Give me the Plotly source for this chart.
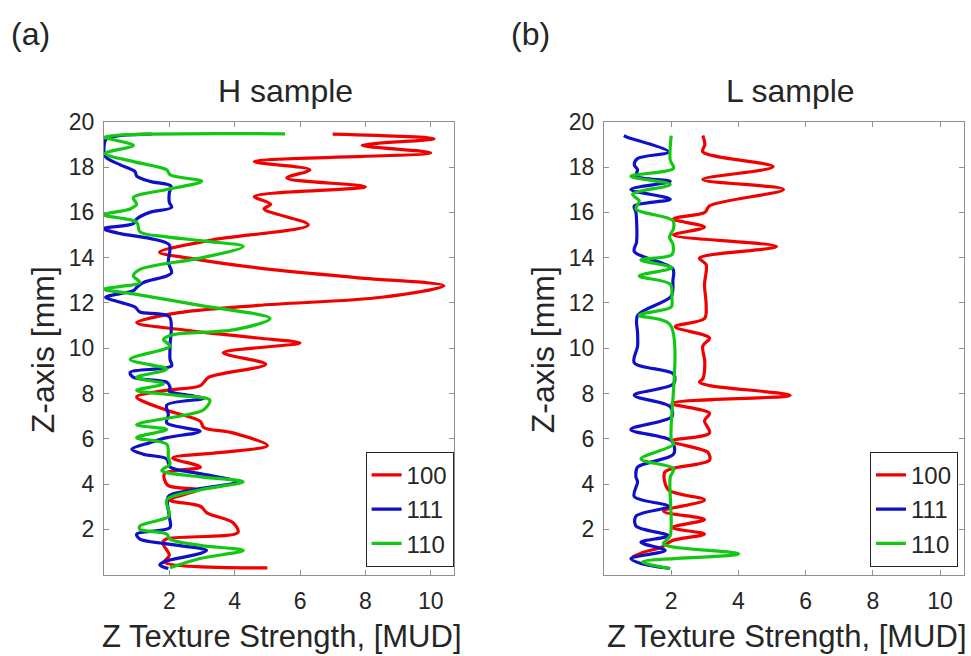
import plotly.graph_objects as go

W, H = 971, 656

# ---- H sample: texture strength vs Z position ----
h100_z = [19.46, 19.25, 18.96, 18.63, 18.24, 17.88, 17.52, 17.13, 16.70, 16.36, 16.15, 15.45,
          14.78, 14.24, 13.98, 13.55, 13.12, 12.76, 12.25, 11.89, 11.53, 11.13, 10.78, 10.45,
          10.23, 9.80, 9.29, 8.71, 8.35, 8.14, 7.85, 7.27, 6.77, 6.50, 6.26, 5.70, 5.40, 5.15,
          4.75, 4.46, 3.95, 3.74, 3.30, 3.02, 2.73, 2.29, 1.86, 1.57, 1.40, 0.85, 0.56, 0.30]
h100_v = [7.0, 10.1, 7.9, 10.0, 4.6, 6.3, 5.6, 8.0, 4.6, 5.1, 4.9, 6.25,
          3.3, 1.7, 2.6, 4.7, 7.7, 10.4, 8.5, 4.7, 2.1, 1.0, 2.6, 4.7,
          6.0, 3.65, 4.95, 3.2, 2.95, 1.9, 1.0, 1.9, 2.95, 3.05, 3.95, 5.0, 3.6, 2.1,
          2.95, 1.85, 1.95, 2.85, 2.0, 2.95, 3.15, 3.95, 4.1, 1.9, 1.8, 2.0, 1.85, 5.0]

h111_z = [19.46, 19.25, 18.90, 18.45, 18.10, 17.80, 17.60, 17.37, 17.16, 16.87, 16.44, 16.22,
          16.00, 15.71, 15.50, 15.28, 15.06, 14.85, 14.56, 13.80, 13.33, 13.19, 12.90, 12.68,
          12.54, 12.25, 12.03, 11.82, 11.60, 11.39, 10.09, 9.51, 9.22, 8.93, 8.71, 8.50, 8.28,
          8.10, 7.92, 7.78, 7.49, 7.06, 6.70, 6.33, 6.05, 5.83, 5.54, 5.32, 5.11, 4.75, 4.46,
          4.10, 3.74, 3.45, 2.55, 2.08, 1.79, 1.57, 1.36, 1.07, 0.93, 0.56, 0.42, 0.27]
h111_v = [1.46, 0.08, 0.0, 0.05, 0.5, 0.95, 1.0, 1.4, 2.05, 2.0, 2.0, 2.07,
          1.4, 1.0, 0.9, 0.0, 0.5, 1.4, 2.0, 1.97, 2.07, 1.92, 1.2, 1.0,
          0.9, 0.05, 0.5, 0.95, 1.1, 2.0, 2.02, 2.02, 2.07, 0.8, 0.9, 1.92, 2.02,
          2.0, 2.63, 3.04, 1.92, 1.97, 1.92, 2.94, 1.92, 1.41, 0.85, 1.2, 1.92, 2.02, 2.94,
          4.06, 2.73, 1.97, 2.0, 2.02, 1.0, 1.1, 1.92, 3.14, 2.94, 1.82, 1.71, 1.97]

h110_z = [19.47, 19.32, 18.96, 18.60, 18.24, 17.88, 17.66, 17.37, 17.01, 16.65, 16.36, 16.15,
          15.89, 15.57, 15.14, 14.92, 14.71, 14.49, 13.98, 13.48, 13.19, 12.90, 12.61, 12.40,
          11.89, 11.31, 10.81, 10.60, 10.38, 10.09, 9.51, 9.08, 8.71, 8.43, 8.14, 7.92, 7.71,
          7.27, 7.06, 6.62, 6.41, 6.05, 5.76, 5.18, 4.89, 4.60, 4.32, 4.10, 3.74, 3.30, 2.72,
          2.55, 2.15, 2.00, 1.79, 1.57, 1.29, 1.07, 0.71, 0.30]
h110_v = [5.54, 0.03, 0.9, 0.03, 0.9, 1.92, 2.02, 2.99, 1.92, 0.9, 1.0, 0.8,
          0.0, 1.0, 1.1, 1.92, 3.24, 4.26, 2.94, 1.1, 0.9, 1.1, 0.0, 0.9,
          2.94, 5.08, 3.96, 2.12, 1.82, 2.02, 0.8, 1.92, 1.0, 1.82, 1.0, 2.22, 3.24,
          3.04, 2.53, 1.0, 1.92, 1.0, 1.92, 1.97, 2.02, 1.77, 2.94, 4.26, 2.94, 1.92, 2.0,
          1.97, 1.1, 1.1, 1.92, 2.02, 2.94, 4.26, 2.94, 2.02]

# ---- L sample ----
l100_z = [19.39, 19.00, 18.67, 18.02, 17.45, 17.01, 16.29, 16.00, 15.71, 15.35, 15.00, 14.49,
          13.98, 13.69, 12.80, 11.90, 11.31, 10.95, 10.45, 10.10, 9.40, 8.65, 8.50, 8.35,
          7.92, 7.56, 7.13, 6.80, 6.26, 5.90, 5.40, 5.06, 4.68, 4.50, 3.74, 3.30, 2.80, 2.44,
          2.08, 1.79, 1.50, 1.21, 1.00, 0.78]
l100_v = [2.94, 3.0, 2.94, 5.03, 2.94, 5.34, 3.14, 3.0, 2.07, 2.99, 2.07, 5.13,
          2.84, 3.04, 2.99, 3.04, 2.99, 2.12, 3.14, 2.94, 3.0, 2.94, 2.84, 3.14,
          5.54, 2.02, 3.14, 2.99, 3.14, 2.02, 3.09, 3.14, 2.02, 1.8, 1.92, 2.99, 1.77, 2.99,
          2.02, 2.99, 2.02, 1.71, 1.2, 0.85]

l111_z = [19.39, 19.32, 18.67, 18.38, 18.10, 17.88, 17.60, 17.37, 17.01, 16.58, 16.28, 16.00,
          14.70, 14.27, 13.50, 13.00, 12.30, 11.45, 10.66, 10.09, 9.36, 8.86, 8.43, 7.92,
          7.42, 6.98, 6.41, 5.90, 5.32, 4.75, 4.32, 4.10, 3.45, 3.02, 2.58, 2.15, 1.72, 1.43,
          1.07, 0.71, 0.49, 0.27]
l111_v = [0.59, 0.69, 1.92, 1.0, 0.9, 1.0, 0.95, 1.97, 0.8, 1.97, 0.9, 0.95,
          0.97, 0.9, 2.05, 2.05, 2.0, 1.0, 1.0, 1.0, 0.9, 2.07, 2.07, 0.9,
          1.97, 2.02, 0.8, 2.02, 2.07, 1.0, 0.95, 1.0, 0.9, 1.92, 0.95, 0.95, 1.92, 1.1,
          1.82, 0.8, 1.1, 1.97]

l110_z = [19.39, 18.31, 17.95, 17.59, 17.23, 16.80, 16.50, 16.15, 15.64, 15.30, 14.90, 14.60,
          14.13, 13.90, 13.55, 13.19, 12.83, 12.20, 11.82, 11.46, 11.03, 6.00, 5.76, 5.11,
          4.68, 4.30, 1.72, 1.36, 0.92, 0.56, 0.27]
l110_v = [2.0, 1.97, 2.07, 0.8, 1.97, 0.85, 1.05, 0.95, 2.05, 2.07, 1.95, 2.05,
          2.02, 1.1, 2.02, 1.05, 1.97, 2.02, 2.0, 1.05, 1.97, 2.0, 2.07, 1.1,
          2.07, 1.97, 1.97, 1.77, 4.01, 1.15, 1.97]

series_names = ["100", "111", "110"]
series_colors = ["#f20000", "#1010c8", "#12c812"]

x_ticks = [2, 4, 6, 8, 10]
y_ticks = [2, 4, 6, 8, 10, 12, 14, 16, 18, 20]
x_range = [0, 10.7]
y_range = [0, 20]

panel_titles = ["H sample", "L sample"]
panel_tags = ["(a)", "(b)"]
x_title = "Z Texture Strength, [MUD]"
y_title = "Z-axis [mm]"

FONT = "Liberation Sans, Arial, sans-serif"
TXT = "#262626"
AX = "#8f8f8f"


def px(x):
    return x / W


def py(y):
    return 1 - y / H


# plot-area pixel boxes: (left, right), (top, bottom)
boxes = [((104, 453.6), (111, 573)), ((604, 963.6), (111, 573))]

fig = go.Figure()

panels = [
    [(h100_z, h100_v), (h111_z, h111_v), (h110_z, h110_v)],
    [(l100_z, l100_v), (l111_z, l111_v), (l110_z, l110_v)],
]

for p, data in enumerate(panels):
    xa = "x" if p == 0 else "x2"
    ya = "y" if p == 0 else "y2"
    lg = "legend" if p == 0 else "legend2"
    for (zs, vs), name, col in zip(data, series_names, series_colors):
        fig.add_trace(go.Scatter(
            x=vs, y=zs, mode="lines", name=name,
            line=dict(color=col, width=3.2, shape="spline", smoothing=0.9),
            xaxis=xa, yaxis=ya, legend=lg,
        ))

axis_common = dict(
    showgrid=False, zeroline=False, showline=True, linecolor=AX, linewidth=1,
    mirror="ticks", ticks="inside", ticklen=5, tickcolor=AX, tickwidth=1,
    tickfont=dict(family=FONT, size=23, color=TXT),
)

layout = dict(
    width=W, height=H, margin=dict(l=0, r=0, t=0, b=0),
    paper_bgcolor="white", plot_bgcolor="white", showlegend=True,
    font=dict(family=FONT, color=TXT),
)

for p, ((l, r), (t, b)) in enumerate(boxes):
    sx = "" if p == 0 else "2"
    layout["xaxis" + sx] = dict(axis_common, domain=[px(l), px(r)], range=x_range,
                                tickvals=x_ticks, anchor="y" + sx, ticklabelstandoff=6)
    layout["yaxis" + sx] = dict(axis_common, domain=[py(b), py(t)], range=y_range,
                                tickvals=y_ticks, anchor="x" + sx, ticklabelstandoff=4)

legend_common = dict(
    bgcolor="white", bordercolor=TXT, borderwidth=1,
    font=dict(family=FONT, size=24, color=TXT),
    xanchor="right", yanchor="bottom", tracegroupgap=0, itemwidth=30,
)
layout["legend"] = dict(legend_common, x=px(453.6), y=py(565))
layout["legend2"] = dict(legend_common, x=px(958), y=py(565))

fig.update_layout(**layout)

# panel tags, titles and axis titles
ann = []
for tag, xpx in zip(panel_tags, [30, 530]):
    ann.append(dict(text=tag, x=px(xpx), y=py(21), size=32))
for title, xpx in zip(panel_titles, [285, 790]):
    ann.append(dict(text=title, x=px(xpx), y=py(80), size=32))
for xpx in [282, 787]:
    ann.append(dict(text=x_title, x=px(xpx), y=py(636), size=31))
for xpx in [43, 543]:
    ann.append(dict(text=y_title, x=px(xpx), y=py(344), size=32, textangle=-90))

for a in ann:
    size = a.pop("size")
    fig.add_annotation(xref="paper", yref="paper", showarrow=False,
                       xanchor="center", yanchor="middle",
                       font=dict(family=FONT, size=size, color=TXT), **a)

fig.write_html("out.html")
